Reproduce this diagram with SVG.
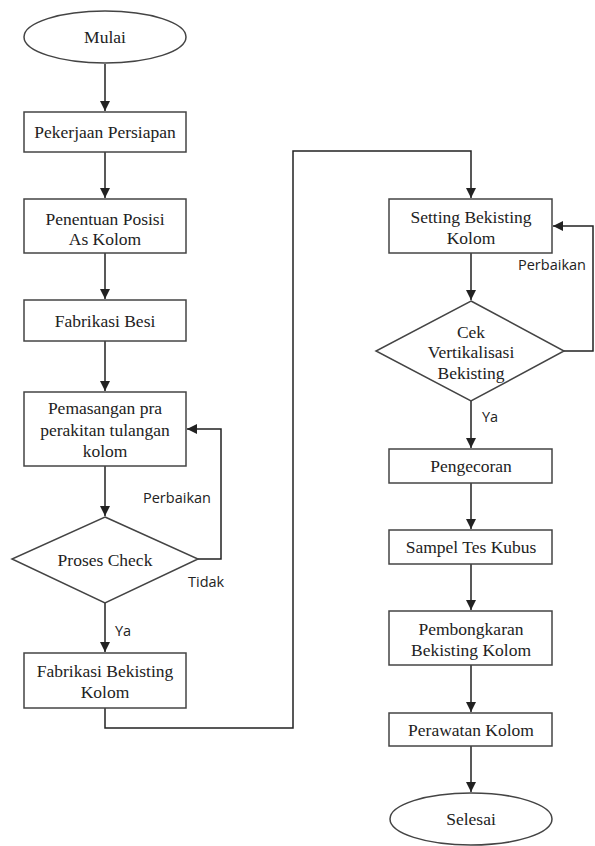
<svg xmlns="http://www.w3.org/2000/svg" width="595" height="846" viewBox="0 0 595 846">
<defs>
<marker id="ah" viewBox="0 0 10 10" refX="10" refY="5" markerWidth="10" markerHeight="10" markerUnits="userSpaceOnUse" orient="auto">
<path d="M0,0 L10,5 L0,10 z" fill="#222"/>
</marker>
</defs>
<style>
.n{fill:#fff;stroke:#444;stroke-width:1.5}
.t{font-family:"Liberation Serif","Times New Roman",serif;font-size:17.5px;fill:#222;text-anchor:middle}
.l{font-family:"Open Sans","Liberation Sans",sans-serif;font-size:14.5px;fill:#222}
.c{fill:none;stroke:#222;stroke-width:1.5}
</style>
<rect width="595" height="846" fill="#fff"/>
<g id="connectors">
<path class="c" d="M105,64 V111" marker-end="url(#ah)"/>
<path class="c" d="M105,152 V198" marker-end="url(#ah)"/>
<path class="c" d="M105,253 V299" marker-end="url(#ah)"/>
<path class="c" d="M105,341 V391" marker-end="url(#ah)"/>
<path class="c" d="M105,466 V516" marker-end="url(#ah)"/>
<path class="c" d="M198,559 H221 V429 H187" marker-end="url(#ah)"/>
<path class="c" d="M105,603 V652" marker-end="url(#ah)"/>
<path class="c" d="M105,708 V728 H293 V151 H471 V198" marker-end="url(#ah)"/>
<path class="c" d="M471,253 V300" marker-end="url(#ah)"/>
<path class="c" d="M564,351 H593 V226 H553" marker-end="url(#ah)"/>
<path class="c" d="M471,401 V448" marker-end="url(#ah)"/>
<path class="c" d="M471,483 V529" marker-end="url(#ah)"/>
<path class="c" d="M471,564 V610" marker-end="url(#ah)"/>
<path class="c" d="M471,665 V712" marker-end="url(#ah)"/>
<path class="c" d="M471,746 V792" marker-end="url(#ah)"/>
<text class="l" x="143" y="503">Perbaikan</text>
<text class="l" x="188" y="587">Tidak</text>
<text class="l" x="115" y="636">Ya</text>
<text class="l" x="518" y="270">Perbaikan</text>
<text class="l" x="482" y="422">Ya</text>
</g>
<g id="mulai">
<ellipse class="n" cx="105" cy="37" rx="81" ry="26"/>
<text class="t" x="105" y="43">Mulai</text>
</g>
<g id="pekerjaan">
<rect class="n" x="24" y="112" width="162" height="40"/>
<text class="t" x="105" y="138">Pekerjaan Persiapan</text>
</g>
<g id="penentuan">
<rect class="n" x="24" y="199" width="162" height="54"/>
<text class="t" x="105" y="225">Penentuan Posisi</text>
<text class="t" x="105" y="245">As Kolom</text>
</g>
<g id="fabrikasi-besi">
<rect class="n" x="24" y="300" width="162" height="41"/>
<text class="t" x="105" y="327">Fabrikasi Besi</text>
</g>
<g id="pemasangan">
<rect class="n" x="24" y="392" width="162" height="74"/>
<text class="t" x="105" y="414">Pemasangan pra</text>
<text class="t" x="105" y="436">perakitan tulangan</text>
<text class="t" x="105" y="457">kolom</text>
</g>
<g id="proses-check">
<polygon class="n" points="105,517 198,559 105,603 12,559"/>
<text class="t" x="105" y="566">Proses Check</text>
</g>
<g id="fabrikasi-bekisting">
<rect class="n" x="24" y="653" width="162" height="55"/>
<text class="t" x="105" y="677">Fabrikasi Bekisting</text>
<text class="t" x="105" y="698">Kolom</text>
</g>
<g id="setting">
<rect class="n" x="389" y="199" width="163" height="54"/>
<text class="t" x="471" y="223">Setting Bekisting</text>
<text class="t" x="471" y="244">Kolom</text>
</g>
<g id="cek">
<polygon class="n" points="471,301 564,351 471,401 376,351"/>
<text class="t" x="471" y="338">Cek</text>
<text class="t" x="471" y="358">Vertikalisasi</text>
<text class="t" x="471" y="379">Bekisting</text>
</g>
<g id="pengecoran">
<rect class="n" x="389" y="449" width="163" height="34"/>
<text class="t" x="471" y="472">Pengecoran</text>
</g>
<g id="sampel">
<rect class="n" x="389" y="530" width="163" height="34"/>
<text class="t" x="471" y="553">Sampel Tes Kubus</text>
</g>
<g id="pembongkaran">
<rect class="n" x="389" y="611" width="163" height="54"/>
<text class="t" x="471" y="635">Pembongkaran</text>
<text class="t" x="471" y="656">Bekisting Kolom</text>
</g>
<g id="perawatan">
<rect class="n" x="389" y="713" width="163" height="33"/>
<text class="t" x="471" y="736">Perawatan Kolom</text>
</g>
<g id="selesai">
<ellipse class="n" cx="471" cy="819" rx="81" ry="26"/>
<text class="t" x="471" y="825">Selesai</text>
</g>
</svg>
